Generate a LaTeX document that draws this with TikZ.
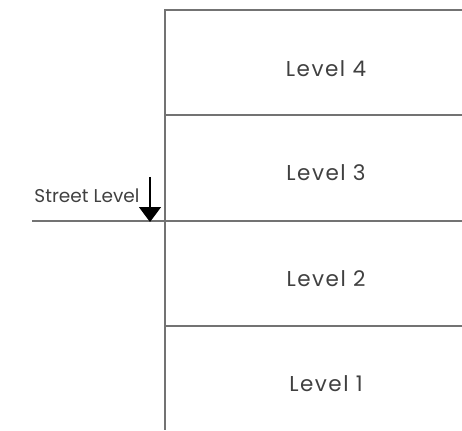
\documentclass[tikz,border=0pt]{standalone}
\usepackage{fontspec}
\setmainfont{Poppins}
\usetikzlibrary{arrows.meta}

\begin{document}
\begin{tikzpicture}[x=1pt, y=-1pt,
    wall/.style={draw=black!55, line width=1.6pt},
    levellabel/.style={text=black!75, font=\fontsize{21.5}{24}\selectfont\addfontfeature{LetterSpace=7}},
    streetlabel/.style={text=black!75, font=\fontsize{18.5}{21}\selectfont, anchor=east}]
    \useasboundingbox (0, 0) rectangle (462, 430);

    \coordinate (top left) at (165, 10);
    \coordinate (top right) at (462, 10);
    \coordinate (bottom left) at (165, 430);
    \coordinate (f34 left) at (165, 115);
    \coordinate (f34 right) at (462, 115);
    \coordinate (street left) at (32, 221);
    \coordinate (street right) at (462, 221);
    \coordinate (f12 left) at (165, 326);
    \coordinate (f12 right) at (462, 326);
    \coordinate (arrow start) at (150, 177);
    \coordinate (arrow end) at (150, 222);

    \node[levellabel] (level4) at (326, 69) {Level 4};
    \node[levellabel] (level3) at (326, 173) {Level 3};
    \node[levellabel] (level2) at (326, 279) {Level 2};
    \node[levellabel] (level1) at (326, 384) {Level 1};
    \node[streetlabel] (street) at (143, 196) {Street Level};

    \draw[wall] (top right) -- (top left) -- (bottom left);
    \draw[wall] (f34 left) -- (f34 right);
    \draw[wall] (street left) -- (street right);
    \draw[wall] (f12 left) -- (f12 right);
    \draw[line width=1.4pt, -{Triangle[width=22pt, length=15pt]}] (arrow start) -- (arrow end);
\end{tikzpicture}
\end{document}
